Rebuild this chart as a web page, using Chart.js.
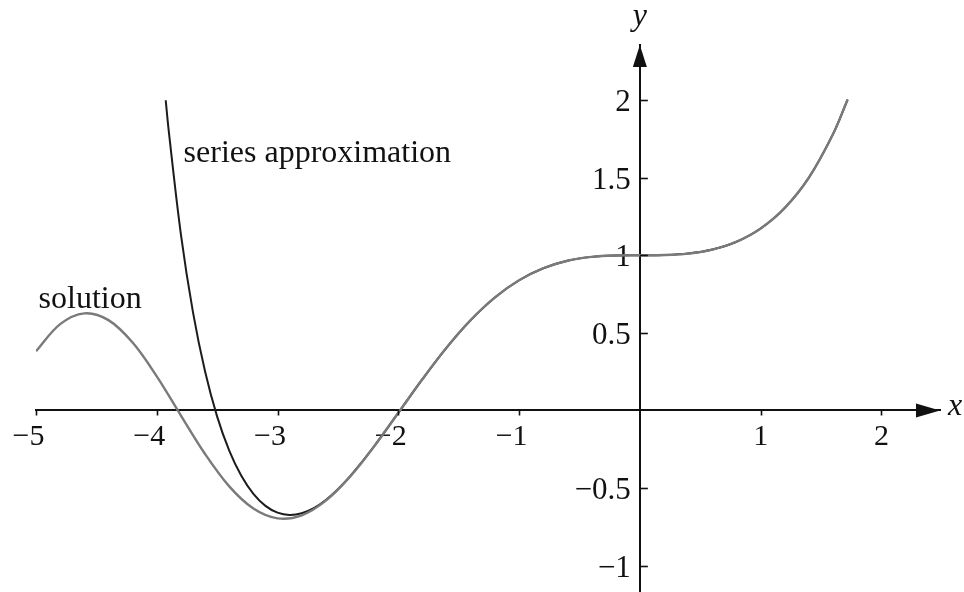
<!DOCTYPE html>
<html>
<head>
<meta charset="utf-8">
<script src="https://cdn.jsdelivr.net/npm/chart.js@4.4.1/dist/chart.umd.min.js"></script>
<style>
  html, body { margin: 0; padding: 0; background: #ffffff; }
  #wrap { width: 964px; height: 592px; position: relative; }
</style>
</head>
<body>
<div id="wrap"><canvas id="c" width="964" height="592"></canvas></div>
<script>
// ---- data ----
const solutionX = [-5, -4.8, -4.6, -4.4, -4.2, -4.0, -3.8, -3.6, -3.4, -3.2, -3.0, -2.8, -2.6, -2.4, -2.2, -2.0, -1.8, -1.6, -1.4, -1.2, -1.0, -0.8, -0.6, -0.4, -0.2, 0, 0.2, 0.4, 0.6, 0.8, 1.0, 1.2, 1.4, 1.6, 1.72];
const solutionY = [0.3815, 0.5561, 0.6258, 0.5821, 0.4374, 0.2200, -0.0325, -0.2804, -0.4888, -0.6316, -0.6947, -0.6752, -0.5808, -0.4262, -0.2308, -0.0150, 0.2023, 0.4054, 0.5829, 0.7282, 0.8388, 0.9161, 0.9643, 0.9894, 0.9987, 1.0, 1.0013, 1.0107, 1.0363, 1.0868, 1.1723, 1.3050, 1.5008, 1.7813, 2.0025];

const seriesX = [-3.926, -3.9, -3.8, -3.7, -3.6, -3.5, -3.4, -3.3, -3.2, -3.1, -3.0, -2.9, -2.8, -2.7, -2.6, -2.5, -2.4, -2.2, -2.0, -1.8, -1.6, -1.4, -1.2, -1.0, -0.8, -0.6, -0.4, -0.2, 0, 0.2, 0.4, 0.6, 0.8, 1.0, 1.2, 1.4, 1.6, 1.72];
const seriesY = [1.998, 1.7941, 1.1333, 0.6321, 0.2507, -0.0394, -0.2584, -0.4208, -0.5370, -0.6143, -0.6581, -0.6728, -0.6620, -0.6288, -0.5763, -0.5073, -0.4248, -0.2304, -0.0149, 0.2023, 0.4054, 0.5829, 0.7282, 0.8388, 0.9161, 0.9643, 0.9894, 0.9987, 1.0, 1.0013, 1.0107, 1.0363, 1.0868, 1.1723, 1.3050, 1.5008, 1.7813, 2.0025];

const xTicks = [-5, -4, -3, -2, -1, 1, 2];
const yTicks = [-1, -0.5, 0.5, 1, 1.5, 2];
const seriesLabel = "series approximation";
const solutionLabel = "solution";
const xAxisLabel = "x";
const yAxisLabel = "y";

// ---- helpers ----
const toPts = (xs, ys) => xs.map((x, i) => ({ x: x, y: ys[i] }));
const fmt = v => (v < 0 ? "\u2212" + String(Math.abs(v)) : String(v));
const INK = "#111111";
const SERIF = "'Liberation Serif', 'Times New Roman', serif";
const Y_LABEL_GAP = 9;

function zeroPad(s) { s.paddingTop = 0; s.paddingBottom = 0; s.paddingLeft = 0; s.paddingRight = 0; }

const decor = {
  id: 'decor',
  beforeDraw(chart) {
    // move the y tick labels a little away from the axis line
    const ys = chart.scales.y;
    const items = ys._labelItems || (ys._labelItems = ys._computeLabelItems(chart.chartArea));
    items.forEach(it => { if (!it._shifted) { it.options.translation[0] -= Y_LABEL_GAP; it._shifted = true; } });
  },
  afterDraw(chart) {
    const ctx = chart.ctx;
    const xs = chart.scales.x, ys = chart.scales.y;
    const x0 = xs.getPixelForValue(0), y0 = ys.getPixelForValue(0);
    ctx.save();
    ctx.strokeStyle = INK; ctx.fillStyle = INK; ctx.lineWidth = 1.6;
    // tick marks
    xTicks.forEach(v => {
      const p = Math.round(xs.getPixelForValue(v)) + 0.5;
      ctx.beginPath(); ctx.moveTo(p, y0); ctx.lineTo(p, y0 + 5); ctx.stroke();
    });
    yTicks.forEach(v => {
      const p = Math.round(ys.getPixelForValue(v)) + 0.5;
      ctx.beginPath(); ctx.moveTo(x0, p); ctx.lineTo(x0 + 8, p); ctx.stroke();
    });
    // arrows
    const tipX = xs.right;
    ctx.beginPath(); ctx.moveTo(tipX, y0); ctx.lineTo(tipX - 24, y0 - 7); ctx.lineTo(tipX - 24, y0 + 7); ctx.closePath(); ctx.fill();
    const tipY = ys.top;
    ctx.beginPath(); ctx.moveTo(x0, tipY); ctx.lineTo(x0 - 7, tipY + 22); ctx.lineTo(x0 + 7, tipY + 22); ctx.closePath(); ctx.fill();
    // text labels
    ctx.textBaseline = 'alphabetic';
    ctx.font = "32px " + SERIF;
    ctx.textAlign = 'left';
    ctx.fillText(solutionLabel, xs.getPixelForValue(-4.979), ys.getPixelForValue(0.66));
    ctx.fillText(seriesLabel, xs.getPixelForValue(-3.778), ys.getPixelForValue(1.6005));
    ctx.font = "italic 32px " + SERIF;
    ctx.fillText(xAxisLabel, tipX + 8, y0 + 4.5);
    ctx.textAlign = 'center';
    ctx.fillText(yAxisLabel, x0, tipY - 20);
    ctx.restore();
  }
};

new Chart(document.getElementById('c'), {
  type: 'line',
  data: {
    datasets: [
      {
        label: seriesLabel,
        data: toPts(seriesX, seriesY),
        borderColor: '#1c1c1c',
        borderWidth: 2,
        pointRadius: 0,
        tension: 0.35,
        fill: false,
        order: 2
      },
      {
        label: solutionLabel,
        data: toPts(solutionX, solutionY),
        borderColor: '#7a7a7a',
        borderWidth: 2.4,
        pointRadius: 0,
        tension: 0.35,
        fill: false,
        order: 1
      }
    ]
  },
  options: {
    responsive: false,
    animation: false,
    events: [],
    layout: { padding: { left: 36, right: 24, top: 45, bottom: 0 } },
    plugins: { legend: { display: false }, tooltip: { enabled: false }, title: { display: false } },
    scales: {
      x: {
        type: 'linear',
        min: -5, max: 2.485,
        position: { y: 0 },
        grid: { display: false, drawTicks: false, tickLength: 0 },
        border: { display: true, color: INK, width: 2 },
        afterBuildTicks: s => { s.ticks = xTicks.map(v => ({ value: v })); },
        afterFit: zeroPad,
        ticks: {
          autoSkip: false,
          maxRotation: 0,
          padding: 9,
          color: INK,
          font: { family: SERIF, size: 30 },
          callback: v => (v < 0 ? fmt(v) + "\u2002" : fmt(v))
        }
      },
      y: {
        type: 'linear',
        min: -1.169, max: 2.354,
        position: { x: 0 },
        grid: { display: false, drawTicks: false, tickLength: 0 },
        border: { display: true, color: INK, width: 2 },
        afterBuildTicks: s => { s.ticks = yTicks.map(v => ({ value: v })); },
        afterFit: zeroPad,
        ticks: {
          autoSkip: false,
          padding: 0,
          labelOffset: 3,
          color: INK,
          font: { family: SERIF, size: 31 },
          callback: v => fmt(v)
        }
      }
    }
  },
  plugins: [decor]
});
</script>
</body>
</html>
